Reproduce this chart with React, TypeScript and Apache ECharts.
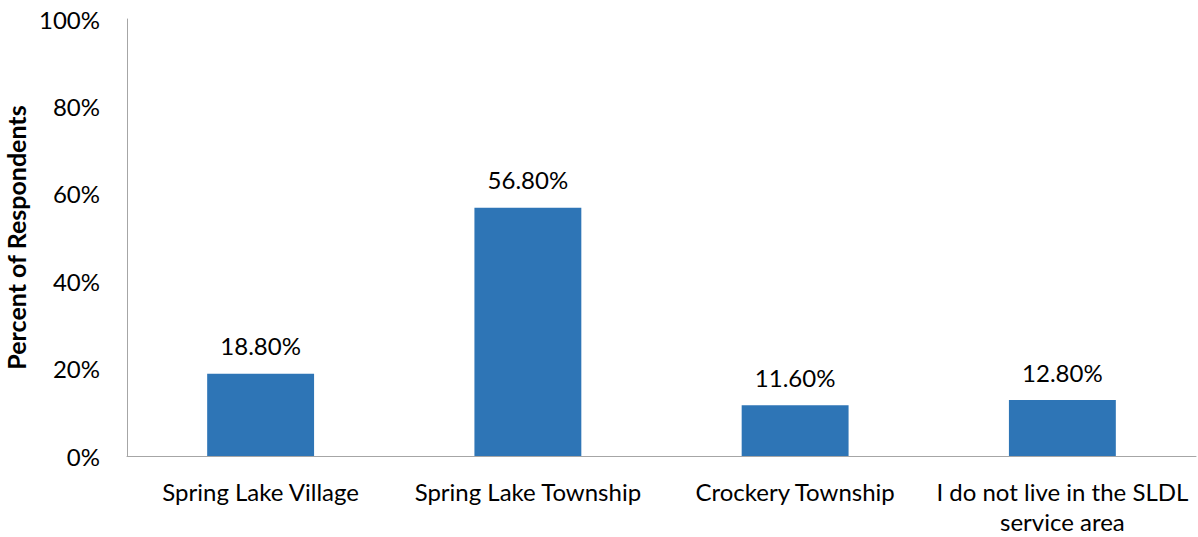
import React, { useEffect, useRef } from "react";
import * as echarts from "echarts";

const categories = [
  "Spring Lake Village",
  "Spring Lake Township",
  "Crockery Township",
  "I do not live in the SLDL\nservice area",
];
const values = [18.8, 56.8, 11.6, 12.8];
const yTicks = [0, 20, 40, 60, 80, 100];

const FONT = "Lato, 'Open Sans', sans-serif";

export default function App() {
  const ref = useRef<HTMLDivElement>(null);
  useEffect(() => {
    if (!ref.current) return;
    const chart = echarts.init(ref.current, undefined, { renderer: "svg" });
    chart.setOption({
      animation: false,
      backgroundColor: "#ffffff",
      grid: {
        left: 127,
        right: 2,
        top: 19,
        bottom: 81,
        containLabel: false,
        outerBoundsMode: "none",
      },
      xAxis: {
        type: "category",
        data: categories,
        axisLine: { lineStyle: { color: "#a6a6a6", width: 1 } },
        axisTick: { show: false },
        axisLabel: {
          color: "#000",
          fontFamily: FONT,
          fontSize: 24,
          margin: 20,
          lineHeight: 30,
          interval: 0,
        },
      },
      yAxis: {
        type: "value",
        min: yTicks[0],
        max: yTicks[yTicks.length - 1],
        interval: 20,
        name: "Percent of Respondents",
        nameLocation: "middle",
        nameGap: 99,
        nameTextStyle: { color: "#000", fontFamily: FONT, fontSize: 25, fontWeight: "bold" },
        axisLine: { show: true, lineStyle: { color: "#a6a6a6", width: 1 } },
        axisTick: { show: false },
        splitLine: { show: false },
        axisLabel: {
          color: "#000",
          fontFamily: FONT,
          fontSize: 24,
          margin: 27,
          formatter: (v: number) => `${v}%`,
        },
      },
      series: [
        {
          type: "bar",
          data: values,
          barWidth: "40%",
          itemStyle: { color: "#2e75b6" },
          label: {
            show: true,
            position: "top",
            distance: 16,
            color: "#000",
            fontFamily: FONT,
            fontSize: 24,
            formatter: (p: any) => `${p.value.toFixed(2)}%`,
          },
        },
      ],
    });
    return () => chart.dispose();
  }, []);
  return (
    <div
      ref={ref}
      style={{ position: "fixed", left: 0, top: 0, width: 1198, height: 537 }}
    />
  );
}
